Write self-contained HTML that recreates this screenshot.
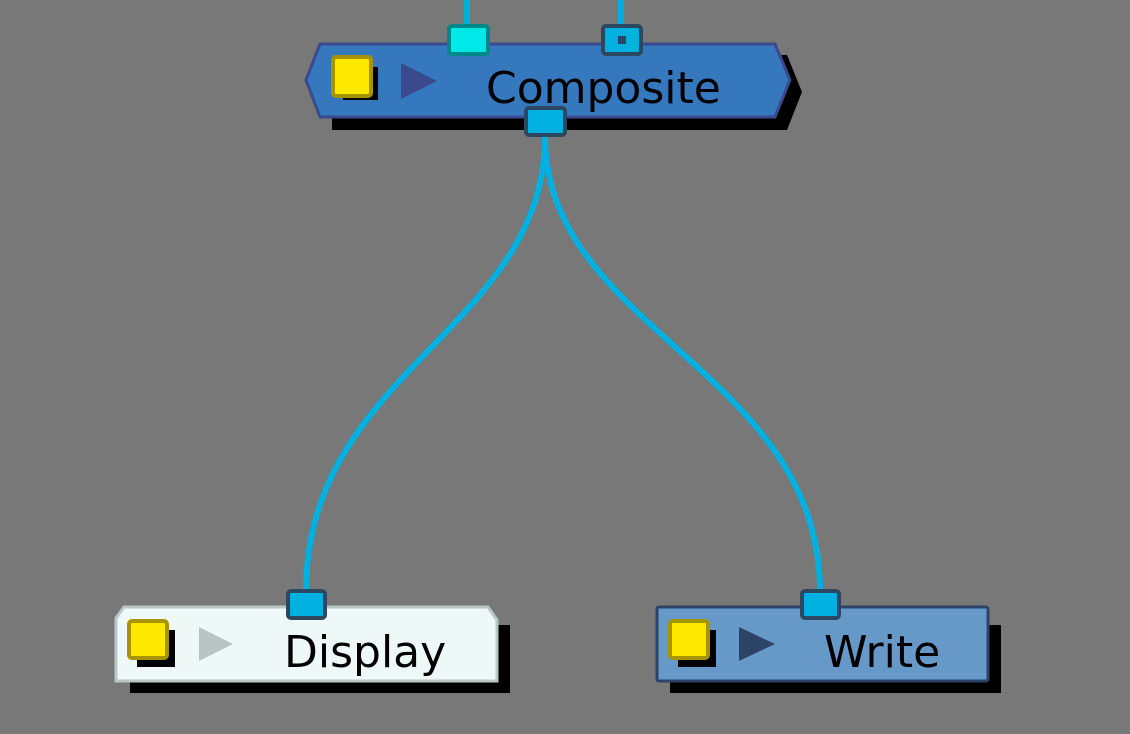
<!DOCTYPE html>
<html><head><style>body{margin:0;background:#787878}svg{display:block}</style></head><body>
<svg width="1130" height="734" viewBox="0 0 1130 734" xmlns="http://www.w3.org/2000/svg">
<rect width="1130" height="734" fill="#787878"/>
<g stroke="#00b0e0" stroke-width="6" fill="none">
<line x1="467" y1="0" x2="467" y2="28"/>
<line x1="621" y1="0" x2="621" y2="28"/>
<path d="M545,136 C545,330 306,370 306,592"/>
<path d="M545,136 C545,330 820,370 820,592"/>
</g>
<!-- Composite -->
<polygon points="332,55 787,55 802,92 787,130 332,130" fill="#000"/>
<polygon points="306,80 320,44 775,44 790,80 775,117 320,117" fill="#3578be" stroke="#3a4a8c" stroke-width="3"/>
<rect x="343" y="67" width="35" height="33" fill="#000"/>
<rect x="333" y="57" width="38" height="39" rx="3" fill="#ffe800" stroke="#a89400" stroke-width="4"/>
<polygon points="401,63 437,81 401,99" fill="#3a4a8c"/>
<text x="486" y="103" font-family="DejaVu Sans, sans-serif" font-size="44" fill="#000">Composite</text>
<rect x="449" y="26" width="39" height="28" rx="3" fill="#00e8e8" stroke="#008888" stroke-width="4"/>
<rect x="603" y="26" width="38" height="28" rx="3" fill="#00b0e0" stroke="#2c4860" stroke-width="4"/>
<rect x="618" y="36" width="8" height="8" fill="#2c4860"/>
<rect x="526" y="108" width="39" height="27" rx="3" fill="#00b0e0" stroke="#2c4860" stroke-width="4"/>
<!-- Display -->
<rect x="130" y="625" width="380" height="68" fill="#000"/>
<polygon points="116,618 124,607 488,607 497,620 497,681 116,681" fill="#eef8f6" stroke="#b8c8c8" stroke-width="3"/>
<rect x="137" y="630" width="38" height="37" fill="#000"/>
<rect x="129" y="621" width="38" height="37" rx="3" fill="#ffe800" stroke="#a89400" stroke-width="4"/>
<polygon points="199,627 233,644 199,661" fill="#b8c4c4"/>
<text x="284" y="667" font-family="DejaVu Sans, sans-serif" font-size="44" fill="#000">Display</text>
<rect x="288" y="591" width="37" height="27" rx="3" fill="#00b0e0" stroke="#2c4860" stroke-width="4"/>
<!-- Write -->
<rect x="670" y="625" width="331" height="68" fill="#000"/>
<rect x="657" y="607" width="331" height="74" rx="2" fill="#6699c8" stroke="#2c4466" stroke-width="3"/>
<rect x="678" y="630" width="38" height="37" fill="#000"/>
<rect x="670" y="621" width="38" height="37" rx="3" fill="#ffe800" stroke="#a89400" stroke-width="4"/>
<polygon points="739,627 775,644 739,661" fill="#2c4466"/>
<text x="824" y="667" font-family="DejaVu Sans, sans-serif" font-size="44" fill="#000">Write</text>
<rect x="802" y="591" width="37" height="27" rx="3" fill="#00b0e0" stroke="#2c4860" stroke-width="4"/>
</svg>
</body></html>
